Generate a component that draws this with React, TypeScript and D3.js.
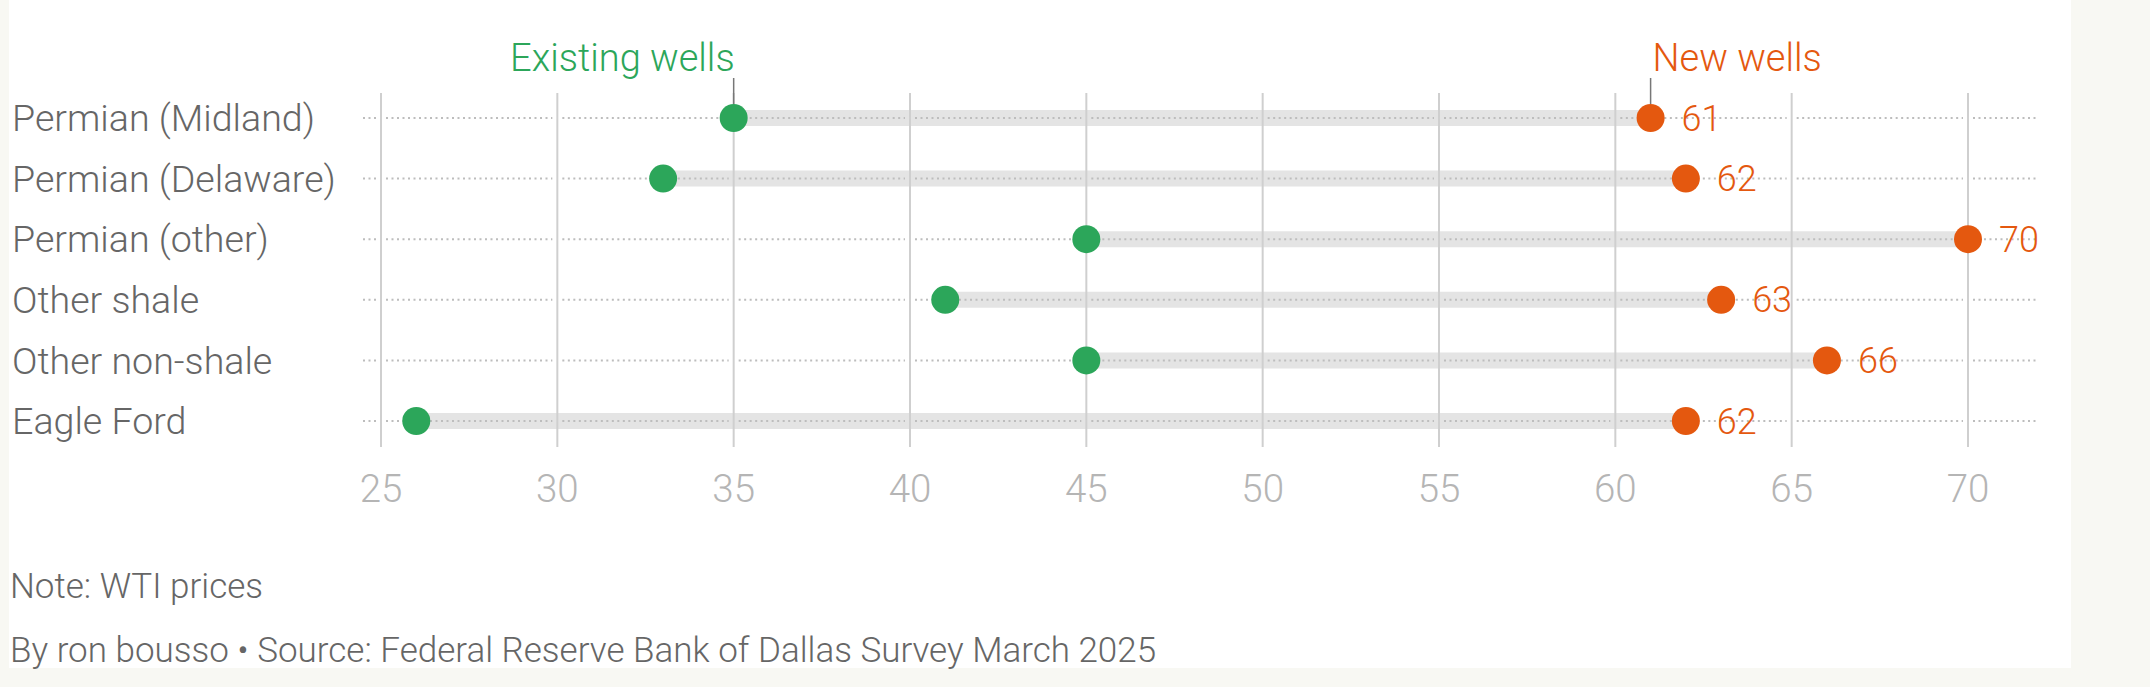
import * as d3 from 'd3'

const regions = ['Permian (Midland)', 'Permian (Delaware)', 'Permian (other)', 'Other shale', 'Other non-shale', 'Eagle Ford']
const existingWells = [35, 33, 45, 41, 45, 26]
const newWells = [61, 62, 70, 63, 66, 62]
const tickValues = [25, 30, 35, 40, 45, 50, 55, 60, 65, 70]

const green = '#2ca65a'
const orange = '#e4580f'
const FONT = 'Roboto'

const App = () => {
    const x = d3.scaleLinear().domain([25, 70]).range([381, 1968])
    const y = d3.scalePoint<string>().domain(regions).range([118, 421])
    const r = 14

    return (
        <svg width={2150} height={687} style={{ position: 'absolute', left: 0, top: 0 }} fontFamily={FONT}>
            <rect width={2150} height={687} fill="#f8f8f3" />
            <rect x={9} y={0} width={2062} height={668} fill="#ffffff" />

            {/* grey range bars */}
            {regions.map((d, i) => (
                <line key={d} x1={x(existingWells[i])} x2={x(newWells[i])} y1={y(d)} y2={y(d)} stroke="#e4e4e4" strokeWidth={16} />
            ))}

            {/* dotted row guides, broken around gridlines */}
            {regions.map(d => {
                const stops = [x(25) - 18, ...tickValues.map(t => x(t)), x(70) + 70]
                return d3.pairs(stops).map(([a, b], j) => (
                    <line key={d + j}
                        x1={j === 0 ? a : a + 5} x2={j === stops.length - 2 ? b : b - 5}
                        y1={y(d)} y2={y(d)} stroke="#bdbdbd" strokeWidth={2} strokeDasharray="2 3.5" />
                ))
            })}

            {/* gridlines and tick labels */}
            {tickValues.map(t => (
                <g key={t}>
                    <line x1={x(t)} x2={x(t)} y1={93} y2={447} stroke="#cfcfcf" strokeWidth={2} />
                    <text x={x(t)} y={489} dy="0.35em" textAnchor="middle" fill="#b5b5b5" fontSize={38.5} fontWeight={300}>{t}</text>
                </g>
            ))}

            {/* row labels */}
            {regions.map(d => (
                <text key={d} x={12} y={y(d)} dy="0.35em" fill="#666" fontSize={37.6} fontWeight={300}>{d}</text>
            ))}

            {/* legend */}
            <line x1={x(existingWells[0])} x2={x(existingWells[0])} y1={78} y2={y(regions[0]) - r} stroke="#777" strokeWidth={1.5} />
            <line x1={x(newWells[0])} x2={x(newWells[0])} y1={78} y2={y(regions[0]) - r} stroke="#777" strokeWidth={1.5} />
            <text x={x(existingWells[0]) + 1} y={71} textAnchor="end" fill={green} fontSize={38} fontWeight={300}>Existing wells</text>
            <text x={x(newWells[0]) + 2} y={71} fill={orange} fontSize={38} fontWeight={300}>New wells</text>

            {/* dots and value labels */}
            {regions.map((d, i) => (
                <g key={d}>
                    <circle cx={x(existingWells[i])} cy={y(d)} r={r} fill={green} />
                    <circle cx={x(newWells[i])} cy={y(d)} r={r} fill={orange} />
                    <text x={x(newWells[i]) + 31} y={y(d)} dy="0.35em" fill={orange} fontSize={36} fontWeight={300}>{newWells[i]}</text>
                </g>
            ))}

            {/* footer */}
            <text x={10} y={598} fill="#666" fontSize={35} fontWeight={300}>Note: WTI prices</text>
            <text x={10} y={662} fill="#666" fontSize={35} fontWeight={300}>By ron bousso • Source: Federal Reserve Bank of Dallas Survey March 2025</text>
        </svg>
    )
}

export default App
